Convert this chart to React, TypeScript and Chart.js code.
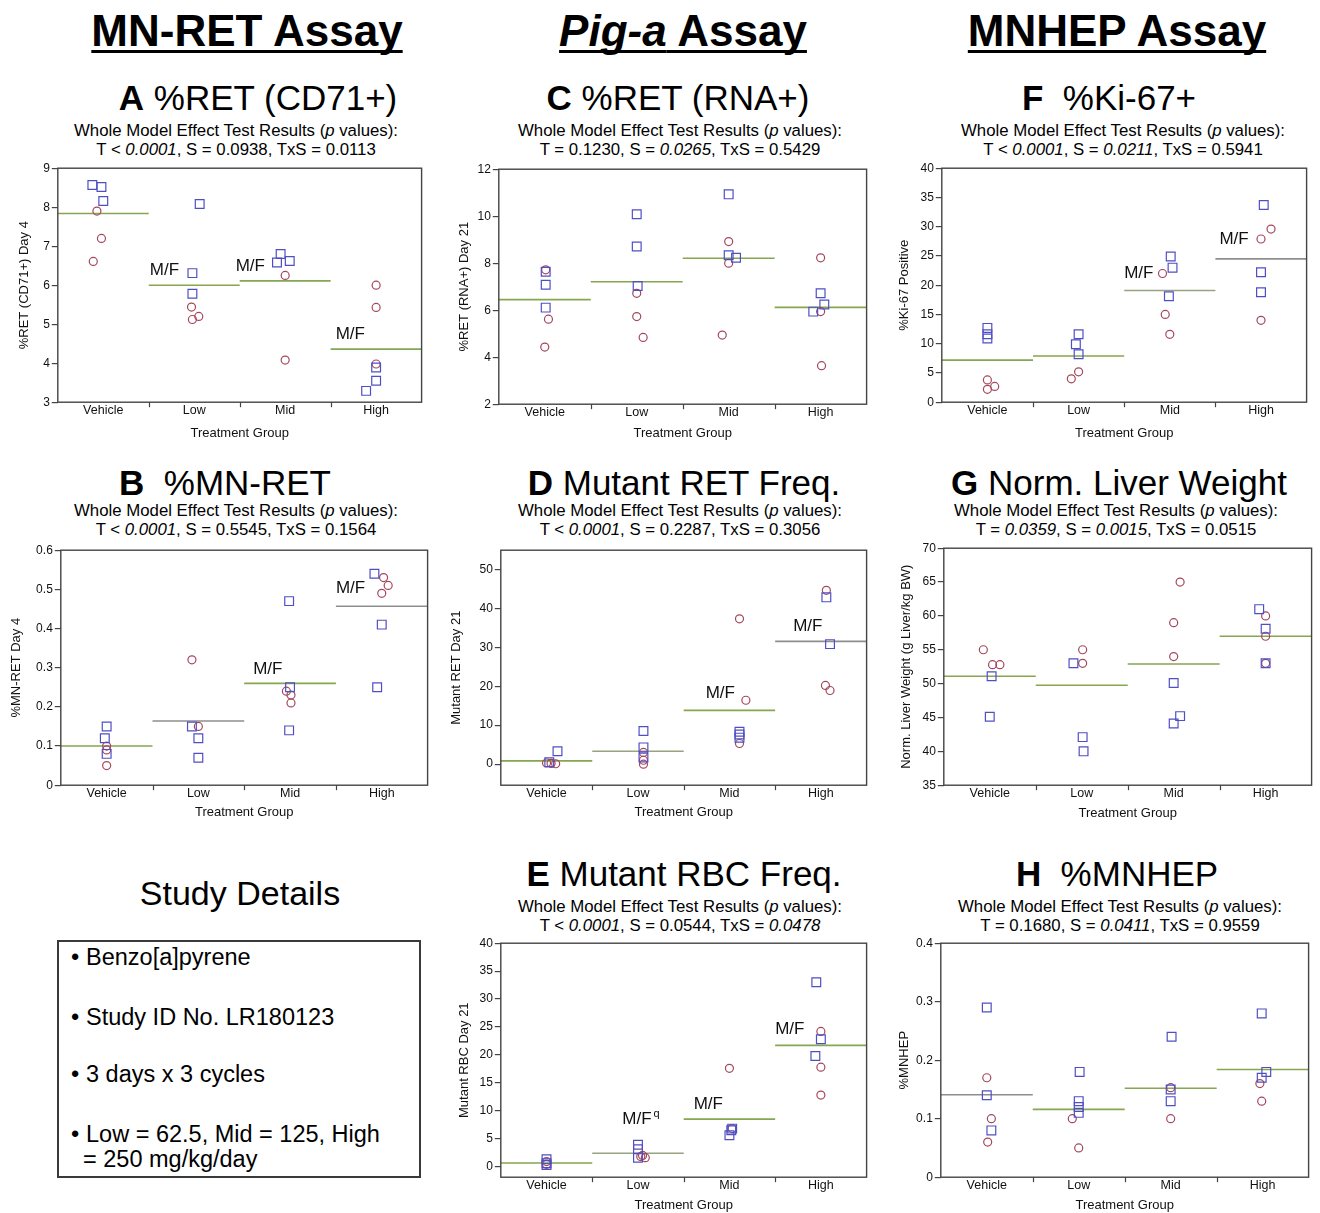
import React, { useEffect, useRef } from 'react';
import { Chart, registerables } from 'chart.js';

Chart.register(...registerables);

const FONT = '"Liberation Sans", Arial, Helvetica, sans-serif';
Chart.defaults.font.family = FONT;

const treatmentGroups = ['Vehicle', 'Low', 'Mid', 'High'];

// A: %RET (CD71+) Day 4
const cd71Squares = [[8.57, 8.52, 8.16], [8.08, 6.31, 5.78], [6.8, 6.58, 6.62], [3.89, 3.55, 3.29]];
const cd71Circles = [[7.9, 7.2, 6.61], [5.44, 5.12, 5.2], [6.25, 4.08], [6.0, 5.43, 3.98]];
const cd71Means = [7.84, 6.0, 6.11, 4.36];
const cd71Ticks = [3, 4, 5, 6, 7, 8, 9];

// B: %MN-RET Day 4
const mnRetSquares = [[0.15, 0.12, 0.08], [0.15, 0.12, 0.07], [0.47, 0.25, 0.14], [0.54, 0.41, 0.25]];
const mnRetCircles = [[0.1, 0.09, 0.05], [0.32, 0.15], [0.24, 0.23, 0.21], [0.53, 0.51, 0.49]];
const mnRetMeans = [0.1, 0.164, 0.26, 0.457];
const mnRetTicks = [0, 0.1, 0.2, 0.3, 0.4, 0.5, 0.6];

// C: %RET (RNA+) Day 21
const rnaRetSquares = [[7.64, 7.08, 6.11], [10.08, 8.71, 7.03], [10.93, 8.34, 8.23], [6.72, 6.24, 5.94]];
const rnaRetCircles = [[7.72, 5.62, 4.43], [6.72, 5.73, 4.84], [8.92, 8.0, 4.94], [8.23, 5.94, 3.64]];
const rnaRetMeans = [6.45, 7.21, 8.21, 6.12];
const rnaRetTicks = [2, 4, 6, 8, 10, 12];

// D: Mutant RET Day 21
const mutRetSquares = [[3.3, 0.5], [8.5, 4.3, 1.7], [8.3, 7.6, 6.8], [42.8, 30.8]];
const mutRetCircles = [[0.3, 0.2, 0.1], [3.0, 1.0, 0.0], [37.3, 16.4, 5.3], [44.6, 20.2, 18.9]];
const mutRetMeans = [0.85, 3.3, 13.8, 31.5];
const mutRetTicks = [0, 10, 20, 30, 40, 50];

// E: Mutant RBC Day 21
const mutRbcSquares = [[1.3, 0.6, 0.3], [3.9, 3.1, 1.6], [6.8, 6.5, 5.6], [33.0, 22.8, 19.8]];
const mutRbcCircles = [[0.9, 0.4], [2.0, 1.8, 1.6], [17.6, 6.8], [24.2, 17.8, 12.8]];
const mutRbcMeans = [0.65, 2.4, 8.5, 21.7];
const mutRbcTicks = [0, 5, 10, 15, 20, 25, 30, 35, 40];

// F: %Ki-67 Positive
const ki67Squares = [[12.7, 11.6, 10.9], [11.6, 9.9, 8.2], [24.9, 23.0, 18.1], [33.7, 22.2, 18.8]];
const ki67Circles = [[3.8, 2.2, 2.7], [5.2, 4.0], [22.0, 15.0, 11.6], [29.6, 27.9, 14.0]];
const ki67Means = [7.2, 7.9, 19.1, 24.5];
const ki67Ticks = [0, 5, 10, 15, 20, 25, 30, 35, 40];

// G: Norm. Liver Weight (g Liver/kg BW)
const liverSquares = [[51.1, 45.1], [53.0, 42.1, 40.0], [50.1, 45.2, 44.1], [61.0, 58.1, 53.0]];
const liverCircles = [[55.0, 52.8, 52.8], [55.0, 53.0], [65.0, 59.0, 54.0], [60.0, 57.0, 53.0]];
const liverMeans = [51.1, 49.75, 52.9, 57.0];
const liverTicks = [35, 40, 45, 50, 55, 60, 65, 70];

// H: %MNHEP
const mnhepSquares = [[0.29, 0.14, 0.08], [0.18, 0.13, 0.12, 0.11], [0.24, 0.15, 0.13], [0.28, 0.18, 0.17]];
const mnhepCircles = [[0.17, 0.1, 0.06], [0.1, 0.05], [0.153, 0.1], [0.16, 0.13]];
const mnhepMeans = [0.141, 0.116, 0.152, 0.184];
const mnhepTicks = [0, 0.1, 0.2, 0.3, 0.4];

// horizontal spread of the markers inside each group (category units)
const cd71SquareJitter = [[-0.12, -0.02, 0], [0.06, -0.02, -0.02], [-0.05, -0.09, 0.05], [0, 0, -0.11]];
const cd71CircleJitter = [[-0.07, -0.02, -0.11], [-0.03, -0.02, 0.05], [0, 0], [0, 0, 0]];
const mnRetSquareJitter = [[0, -0.02, 0], [-0.07, 0, 0], [-0.01, 0, -0.01], [-0.08, 0, -0.05]];
const mnRetCircleJitter = [[0, 0, 0], [-0.07, 0], [-0.04, 0.01, 0.01], [0.02, 0.07, 0]];
const rnaRetSquareJitter = [[0.01, 0.01, 0.01], [0, 0, 0.01], [0, 0, 0.08], [0, 0.04, -0.08]];
const rnaRetCircleJitter = [[0.01, 0.04, 0], [0, 0, 0.07], [0, 0, -0.07], [0, 0, 0.01]];
const mutRetSquareJitter = [[0.12, 0.03], [0.06, 0.06, 0.06], [0.11, 0.11, 0.11], [0.06, 0.1]];
const mutRetCircleJitter = [[0, 0.05, 0.1], [0.06, 0.06, 0.06], [0.11, 0.18, 0.11], [0.06, 0.05, 0.1]];
const mutRbcSquareJitter = [[0, 0, 0], [0, 0, 0], [0.03, 0.02, 0], [-0.05, 0, -0.06]];
const mutRbcCircleJitter = [[0, 0], [0.05, 0.03, 0.08], [0, 0.03], [0, 0, 0]];
const ki67SquareJitter = [[0, 0, 0], [0, -0.03, 0], [0.01, 0.03, -0.01], [0.03, 0, 0]];
const ki67CircleJitter = [[0, 0, 0.08], [0, -0.08], [-0.08, -0.05, 0], [0.11, 0, 0]];
const liverSquareJitter = [[0.02, 0], [-0.09, 0.01, 0.02], [0, 0.07, 0], [-0.07, 0, 0]];
const liverCircleJitter = [[-0.07, 0.03, 0.11], [0.01, 0.01], [0.07, 0, 0], [0, 0, 0]];
const mnhepSquareJitter = [[0, 0, 0.05], [0.01, 0, 0, 0], [0.01, 0, 0], [-0.01, 0.04, -0.01]];
const mnhepCircleJitter = [[0, 0.05, 0.01], [-0.07, 0], [0, 0], [-0.03, -0.01]];

const SQUARE_COLOR = '#4f4fc4';
const CIRCLE_COLOR = '#a5475c';
const GREEN = '#86a64f';
const GRAY = '#8e8e8e';
const OLIVE = '#98a382';

type MfLabel = { g: number; dx: number; lift: number; sup?: string };
type Panel = {
  squares: number[][]; squareJitter: number[][];
  circles: number[][]; circleJitter: number[][];
  means: number[]; meanColors: string[];
  ticks: number[]; yMin: number; yMax: number; yTitle: string;
  left: number; top: number; right: number; bottom: number; yTitleX: number; xTitleY: number;
  labels: MfLabel[];
};

const panels: Panel[] = [
  { squares: cd71Squares, squareJitter: cd71SquareJitter, circles: cd71Circles, circleJitter: cd71CircleJitter,
    means: cd71Means, meanColors: [GREEN, GREEN, GREEN, GREEN], ticks: cd71Ticks, yMin: 3, yMax: 9,
    yTitle: '%RET (CD71+) Day 4', left: 58, top: 167, right: 425, bottom: 402, yTitleX: 25, xTitleY: 433,
    labels: [{ g: 1, dx: 1, lift: 15 }, { g: 2, dx: -4, lift: 15 }, { g: 3, dx: 5, lift: 15 }] },
  { squares: mnRetSquares, squareJitter: mnRetSquareJitter, circles: mnRetCircles, circleJitter: mnRetCircleJitter,
    means: mnRetMeans, meanColors: [GREEN, GRAY, GREEN, GRAY], ticks: mnRetTicks, yMin: 0, yMax: 0.6,
    yTitle: '%MN-RET Day 4', left: 61, top: 549, right: 431, bottom: 785, yTitleX: 17, xTitleY: 812,
    labels: [{ g: 2, dx: 9, lift: 14 }, { g: 3, dx: 0, lift: 18 }] },
  { squares: rnaRetSquares, squareJitter: rnaRetSquareJitter, circles: rnaRetCircles, circleJitter: rnaRetCircleJitter,
    means: rnaRetMeans, meanColors: [GREEN, GREEN, GREEN, GREEN], ticks: rnaRetTicks, yMin: 2, yMax: 12,
    yTitle: '%RET (RNA+) Day 21', left: 499, top: 168, right: 870, bottom: 404, yTitleX: 465, xTitleY: 433,
    labels: [] },
  { squares: mutRetSquares, squareJitter: mutRetSquareJitter, circles: mutRetCircles, circleJitter: mutRetCircleJitter,
    means: mutRetMeans, meanColors: [GREEN, OLIVE, GREEN, GRAY], ticks: mutRetTicks, yMin: -5.4, yMax: 54.9,
    yTitle: 'Mutant RET Day 21', left: 501, top: 549, right: 870, bottom: 785, yTitleX: 457, xTitleY: 812,
    labels: [{ g: 2, dx: 22, lift: 17 }, { g: 3, dx: 18, lift: 15 }] },
  { squares: mutRbcSquares, squareJitter: mutRbcSquareJitter, circles: mutRbcCircles, circleJitter: mutRbcCircleJitter,
    means: mutRbcMeans, meanColors: [GREEN, OLIVE, GREEN, GREEN], ticks: mutRbcTicks, yMin: -1.9, yMax: 40,
    yTitle: 'Mutant RBC Day 21', left: 501, top: 942, right: 870, bottom: 1177, yTitleX: 465, xTitleY: 1205,
    labels: [{ g: 1, dx: 30, lift: 34, sup: 'q' }, { g: 2, dx: 10, lift: 15 }, { g: 3, dx: 0, lift: 16 }] },
  { squares: ki67Squares, squareJitter: ki67SquareJitter, circles: ki67Circles, circleJitter: ki67CircleJitter,
    means: ki67Means, meanColors: [GREEN, GREEN, OLIVE, GRAY], ticks: ki67Ticks, yMin: 0, yMax: 40,
    yTitle: '%Ki-67 Positive', left: 942, top: 167, right: 1310, bottom: 402, yTitleX: 905, xTitleY: 433,
    labels: [{ g: 2, dx: 0, lift: 17 }, { g: 3, dx: 4, lift: 20 }] },
  { squares: liverSquares, squareJitter: liverSquareJitter, circles: liverCircles, circleJitter: liverCircleJitter,
    means: liverMeans, meanColors: [GREEN, GREEN, GREEN, GREEN], ticks: liverTicks, yMin: 35, yMax: 70,
    yTitle: 'Norm. Liver Weight (g Liver/kg BW)', left: 944, top: 547, right: 1315, bottom: 785, yTitleX: 907, xTitleY: 813,
    labels: [] },
  { squares: mnhepSquares, squareJitter: mnhepSquareJitter, circles: mnhepCircles, circleJitter: mnhepCircleJitter,
    means: mnhepMeans, meanColors: [GRAY, GREEN, GREEN, GREEN], ticks: mnhepTicks, yMin: 0, yMax: 0.4,
    yTitle: '%MNHEP', left: 941, top: 942, right: 1312, bottom: 1177, yTitleX: 905, xTitleY: 1205,
    labels: [] },
];

const Y_TITLE_LH = 13 * 1.2;
const X_TITLE_LH = 13 * 1.2;
const PAD_TOP = 8;
const PAD_RIGHT = 4;
const PAD_BOTTOM = 2;

function geometry(p: Panel) {
  const canvasLeft = p.yTitleX - Y_TITLE_LH / 2;
  const canvasTop = p.top - PAD_TOP;
  const yAxisW = p.left - canvasLeft;
  const xAxisH = p.xTitleY + X_TITLE_LH / 2 - p.bottom;
  const width = Math.round(p.right + PAD_RIGHT - canvasLeft);
  const height = Math.round(p.xTitleY + X_TITLE_LH / 2 + PAD_BOTTOM - canvasTop);
  return { canvasLeft, canvasTop, yAxisW, xAxisH, width, height };
}

function points(values: number[][], jitter: number[][]) {
  return values.flatMap((vals, g) => vals.map((v, i) => ({ x: g + jitter[g][i], y: v })));
}

function DotPanel({ p }: { p: Panel }) {
  const ref = useRef<HTMLCanvasElement>(null);
  const geo = geometry(p);

  useEffect(() => {
    if (!ref.current) return;
    const meanSets = p.means.map((m, g) => ({
      type: 'line' as const,
      data: [{ x: g - 0.5, y: m }, { x: g + 0.5, y: m }],
      borderColor: p.meanColors[g],
      borderWidth: 1.6,
      pointRadius: 0,
      fill: false,
    }));
    const framePlugin = {
      id: 'frameAndLabels',
      afterDatasetsDraw(chart: any) {
        const { ctx, chartArea: a, scales } = chart;
        const xs = scales.x;
        const ys = scales.y;
        ctx.save();
        ctx.strokeStyle = '#444';
        ctx.lineWidth = 1.4;
        ctx.strokeRect(a.left, a.top, a.right - a.left, a.bottom - a.top);
        ctx.lineWidth = 1.2;
        for (let b = 0.5; b < treatmentGroups.length - 1; b += 1) {
          const px = Math.round(xs.getPixelForValue(b)) + 0.5;
          ctx.beginPath();
          ctx.moveTo(px, a.bottom);
          ctx.lineTo(px, a.bottom + 5);
          ctx.stroke();
        }
        ctx.fillStyle = '#111';
        ctx.textBaseline = 'middle';
        ctx.textAlign = 'left';
        for (const lb of p.labels) {
          const x = xs.getPixelForValue(lb.g - 0.5) + lb.dx;
          const y = ys.getPixelForValue(p.means[lb.g]) - lb.lift;
          ctx.font = `17px ${FONT}`;
          ctx.fillText('M/F', x, y);
          if (lb.sup) {
            const w = ctx.measureText('M/F').width;
            ctx.font = `11px ${FONT}`;
            ctx.fillText(lb.sup, x + w + 2, y - 5);
          }
        }
        ctx.restore();
      },
    };
    const chart = new Chart(ref.current, {
      type: 'scatter',
      data: {
        datasets: [
          {
            data: points(p.squares, p.squareJitter),
            pointStyle: 'rect',
            pointRadius: 6.2,
            borderColor: SQUARE_COLOR,
            backgroundColor: 'rgba(0,0,0,0)',
            borderWidth: 1.2,
          },
          {
            data: points(p.circles, p.circleJitter),
            pointStyle: 'circle',
            pointRadius: 4,
            borderColor: CIRCLE_COLOR,
            backgroundColor: 'rgba(0,0,0,0)',
            borderWidth: 1.2,
          },
          ...meanSets,
        ] as any,
      },
      options: {
        responsive: false,
        animation: false,
        devicePixelRatio: 1,
        events: [],
        layout: { padding: { top: PAD_TOP, right: PAD_RIGHT, bottom: PAD_BOTTOM, left: 0 } },
        plugins: { legend: { display: false }, tooltip: { enabled: false }, title: { display: false } },
        scales: {
          x: {
            type: 'linear',
            min: -0.5,
            max: treatmentGroups.length - 0.5,
            afterBuildTicks: (s: any) => { s.ticks = treatmentGroups.map((_, i) => ({ value: i })); },
            afterFit: (s: any) => { s.height = geo.xAxisH; },
            ticks: {
              callback: (v: any) => treatmentGroups[Number(v)] ?? '',
              padding: 1,
              font: { size: 12.5 },
              color: '#111',
              maxRotation: 0,
              autoSkip: false,
            },
            grid: { display: false, drawTicks: false, tickLength: 0 },
            border: { display: false },
            title: { display: true, text: 'Treatment Group', padding: 0, font: { size: 13 }, color: '#111' },
          },
          y: {
            type: 'linear',
            min: p.yMin,
            max: p.yMax,
            afterBuildTicks: (s: any) => { s.ticks = p.ticks.map((v) => ({ value: v })); },
            afterFit: (s: any) => { s.width = geo.yAxisW; },
            ticks: {
              callback: (v: any) => String(v),
              padding: 2,
              font: { size: 12 },
              color: '#111',
              autoSkip: false,
            },
            grid: { drawOnChartArea: false, drawTicks: true, tickLength: 6, color: '#444', lineWidth: 1.2 },
            border: { display: false },
            title: { display: true, text: p.yTitle, padding: 0, font: { size: 13 }, color: '#111' },
          },
        },
      } as any,
      plugins: [framePlugin],
    });
    return () => chart.destroy();
  }, []);

  return (
    <canvas
      ref={ref}
      width={geo.width}
      height={geo.height}
      style={{ position: 'absolute', left: geo.canvasLeft, top: geo.canvasTop, width: geo.width, height: geo.height }}
    />
  );
}

function T({ x, base, size, align = 'center', weight = 'normal', style, children }: any) {
  return (
    <div
      style={{
        position: 'absolute',
        left: x,
        top: base - 0.8465 * size,
        fontSize: size,
        lineHeight: `${size}px`,
        fontWeight: weight,
        whiteSpace: 'pre',
        transform: align === 'center' ? 'translateX(-50%)' : undefined,
        fontFamily: FONT,
        color: '#000',
        ...style,
      }}
    >
      {children}
    </div>
  );
}

const headerStyle = {
  textDecoration: 'underline',
  textDecorationThickness: '3px',
  textUnderlineOffset: '4px',
  textDecorationSkipInk: 'none',
};

function Subtitle({ x, base, children }: any) {
  return (
    <>
      <T x={x} base={base} size={16.8}>Whole Model Effect Test Results (<i>p</i> values):</T>
      <T x={x} base={base + 19} size={16.8}>{children}</T>
    </>
  );
}

export default function App() {
  return (
    <div style={{ position: 'absolute', left: 0, top: 0, width: 1320, height: 1213, background: '#fff', overflow: 'hidden' }}>
      <T x={247} base={46} size={44} weight="bold" style={headerStyle}>MN-RET Assay</T>
      <T x={683} base={46} size={44} weight="bold" style={headerStyle}><i>Pig-a</i> Assay</T>
      <T x={1117} base={46} size={44} weight="bold" style={headerStyle}>MNHEP Assay</T>

      <T x={258} base={110} size={35}><b>A</b> %RET (CD71+)</T>
      <T x={678} base={110} size={35}><b>C</b> %RET (RNA+)</T>
      <T x={1109} base={110} size={35}><b>F</b>  %Ki-67+</T>
      <Subtitle x={236} base={137}>T &lt; <i>0.0001</i>, S = 0.0938, TxS = 0.0113</Subtitle>
      <Subtitle x={680} base={137}>T = 0.1230, S = <i>0.0265</i>, TxS = 0.5429</Subtitle>
      <Subtitle x={1123} base={137}>T &lt; <i>0.0001</i>, S = <i>0.0211</i>, TxS = 0.5941</Subtitle>

      <T x={225} base={495} size={35}><b>B</b>  %MN-RET</T>
      <T x={684} base={495} size={35}><b>D</b> Mutant RET Freq.</T>
      <T x={1119} base={495} size={35}><b>G</b> Norm. Liver Weight</T>
      <Subtitle x={236} base={517}>T &lt; <i>0.0001</i>, S = 0.5545, TxS = 0.1564</Subtitle>
      <Subtitle x={680} base={517}>T &lt; <i>0.0001</i>, S = 0.2287, TxS = 0.3056</Subtitle>
      <Subtitle x={1116} base={517}>T = <i>0.0359</i>, S = <i>0.0015</i>, TxS = 0.0515</Subtitle>

      <T x={684} base={886} size={35}><b>E</b> Mutant RBC Freq.</T>
      <T x={1117} base={886} size={35}><b>H</b>  %MNHEP</T>
      <Subtitle x={680} base={913}>T &lt; <i>0.0001</i>, S = 0.0544, TxS = <i>0.0478</i></Subtitle>
      <Subtitle x={1120} base={913}>T = 0.1680, S = <i>0.0411</i>, TxS = 0.9559</Subtitle>

      <T x={240} base={905} size={34}>Study Details</T>
      <div style={{ position: 'absolute', left: 57, top: 940, width: 364, height: 238, border: '2px solid #3a3a3a', boxSizing: 'border-box' }} />
      <T x={71} base={966} size={23.5} align="left">•</T>
      <T x={86} base={966} size={23.5} align="left">Benzo[a]pyrene</T>
      <T x={71} base={1026} size={23.5} align="left">•</T>
      <T x={86} base={1026} size={23.5} align="left">Study ID No. LR180123</T>
      <T x={71} base={1083} size={23.5} align="left">•</T>
      <T x={86} base={1083} size={23.5} align="left">3 days x 3 cycles</T>
      <T x={71} base={1143} size={23.5} align="left">•</T>
      <T x={86} base={1143} size={23.5} align="left">Low = 62.5, Mid = 125, High</T>
      <T x={83} base={1168} size={23.5} align="left">= 250 mg/kg/day</T>

      {panels.map((p, i) => <DotPanel key={i} p={p} />)}
    </div>
  );
}
